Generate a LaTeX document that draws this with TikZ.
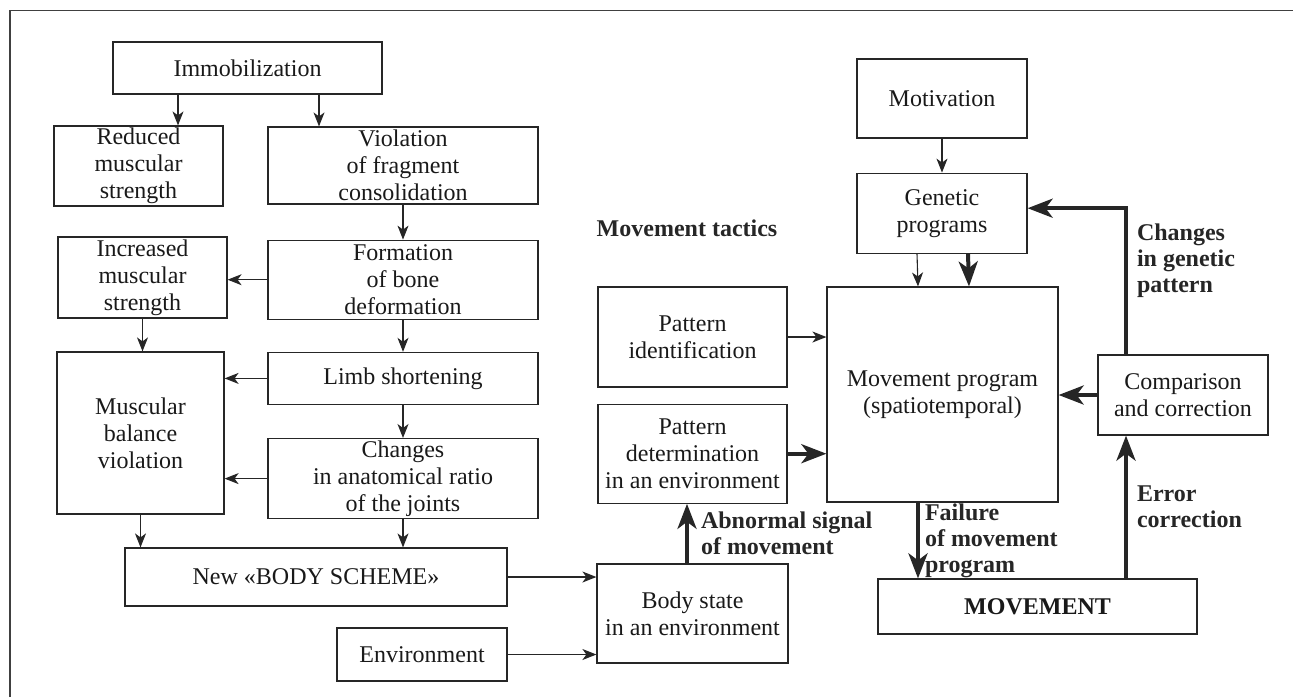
\documentclass[tikz,border=0pt]{standalone}
\usepackage{fontspec}
\setmainfont{Liberation Serif}
\usetikzlibrary{arrows.meta, calc, positioning}

\begin{document}
\begin{tikzpicture}[
    x=1pt, y=-1pt,
    >={Stealth[length=14pt, width=11pt, inset=4pt]},
    box/.style ={draw=black!85, line width=1.2pt, align=center, inner sep=0pt,
                 text=black!90, font=\fontsize{24}{27}\selectfont},
    sz/.style 2 args={minimum width=#1pt, minimum height=#2pt},
    flow/.style={->, line width=1.1pt, black!85},
    bflow/.style={-{Stealth[length=25pt, width=19pt, inset=7pt]}, line width=4pt, black!85},
    lbl/.style ={font=\fontsize{24}{26}\selectfont\bfseries, align=left,
                 inner sep=0pt, text=black!85},
]
\useasboundingbox (0,0) rectangle (1293,697);
% open frame
\draw[line width=1.5pt, black!75] (10,697) -- (10,10.7) -- (1293,10.7);
% left column: consequences of immobilization
\node[box, sz={269}{52}] (immob) at (247.5,68) {Immobilization};
\node[box, sz={169}{80}] (reduced) at (138.5,166) {Reduced\\muscular\\strength};
\node[box, sz={270}{77}] (violation) at (403,165.5) {Violation\\of fragment\\consolidation};
\node[box, sz={270}{79}, below=35pt of violation] (formation) {Formation\\of bone\\deformation};
\node[box, sz={169}{81}] (increased) at (142.5,277.5) {Increased\\muscular\\strength};
\node[box, sz={270}{52}, below=32pt of formation] (limb) {Limb shortening};
\node[box, sz={270}{80}, below=33pt of limb] (anat) {Changes\\in anatomical ratio\\of the joints};
\node[box, sz={167}{162}] (muscbal) at (140.5,433) {Muscular\\balance\\violation};
\node[box, sz={382}{58}] (scheme) at (316,577) {New «BODY SCHEME»};
\node[box, sz={170}{53}] (envir) at (422,654.5) {Environment};
% movement tactics
\node[lbl] (tactics) at (687,228) {Movement tactics};
\node[box, sz={189}{100}] (patid) at (692.5,337) {Pattern\\identification};
\node[box, sz={189}{99}, below=16pt of patid] (patdet) {Pattern\\determination\\in an environment};
\node[box, sz={191}{99}] (body) at (692.5,613.5) {Body state\\in an environment};
% right part: program and feedback
\node[box, sz={170}{79}] (motiv) at (942,98.5) {Motivation};
\node[box, sz={170}{80}, below=34pt of motiv] (genetic) {Genetic\\programs};
\node[box, sz={231}{215}] (program) at (942.5,394.5) {Movement program\\(spatiotemporal)};
\node[box, sz={170}{80}] (compar) at (1183,395) {Comparison\\and correction};
\node[box, sz={319}{55}, font=\fontsize{24}{27}\selectfont\bfseries] (movement) at (1037.5,606.5) {MOVEMENT};

\draw[flow] ([xshift=-69.5pt]immob.south) -- ([xshift=39.5pt]reduced.north);
\draw[flow] ([xshift=71.5pt]immob.south) -- ([xshift=-84pt]violation.north);
\draw[flow] (violation) -- (formation);
\draw[flow] (formation.west) -- (formation.west -| increased.east);
\draw[flow] (increased.south) -- (increased.south |- muscbal.north);
\draw[flow] (formation) -- (limb);
\draw[flow] (limb.west) -- (limb.west -| muscbal.east);
\draw[flow] (limb) -- (anat);
\draw[flow] (anat.west) -- (anat.west -| muscbal.east);
\draw[flow] (muscbal.south) -- (muscbal.south |- scheme.north);
\draw[flow] (anat.south) -- (anat.south |- scheme.north);
\draw[flow] (scheme.east) -- (scheme.east -| body.west);
\draw[flow] (envir.east) -- (envir.east -| body.west);
\draw[bflow] ([xshift=-5.5pt]body.north) -- node[lbl, midway, right=12pt]
     {Abnormal signal\\of movement} ([xshift=-5.5pt]patdet.south);
\draw[flow] (patid.east) -- (patid.east -| program.west);
\draw[bflow] (patdet.east) -- (patdet.east -| program.west);
\draw[flow] (motiv) -- (genetic);
\draw[flow] ([xshift=-25pt]genetic.south) -- ([xshift=-24.5pt]program.north);
\draw[bflow] ([xshift=26pt]genetic.south) -- ([xshift=26.5pt]program.north);
\draw[bflow] (compar.west) -- (compar.west -| program.east);
\draw[bflow] ([xshift=-57pt]compar.north) |- node[lbl, pos=0.32, right=9pt]
     {Changes\\in genetic\\pattern} ([yshift=5pt]genetic.east);
\draw[bflow] ([xshift=88.5pt]movement.north) -- node[lbl, midway, right=9pt]
     {Error\\correction} ([xshift=-57pt]compar.south);
\draw[bflow] ([xshift=-24.5pt]program.south) -- node[lbl, midway, right=5pt]
     {Failure\\of movement\\program} ([xshift=-119.5pt]movement.north);
\end{tikzpicture}
\end{document}
